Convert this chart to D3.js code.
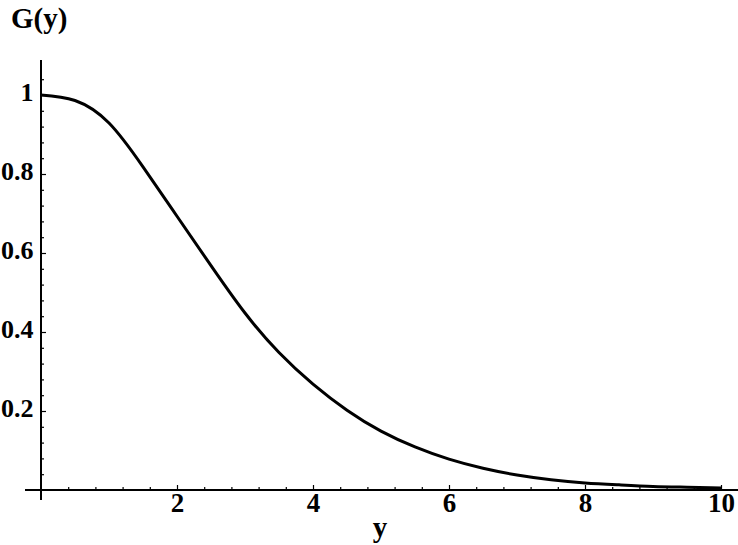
<!DOCTYPE html>
<html>
<head>
<meta charset="utf-8">
<script src="https://cdn.jsdelivr.net/npm/d3@7"></script>
<style>
  body { margin: 0; background: #fff; }
  svg { display: block; }
  text { font-family: "Liberation Serif", "Times New Roman", serif; font-weight: bold; }
</style>
</head>
<body>
<div id="chart"></div>
<script>
// curve G(y)
var yValues = [0, 0.5, 1, 1.5, 2, 2.5, 3, 3.5, 4, 4.5, 5, 5.5, 6, 6.5, 7, 7.5, 8, 8.5, 9, 9.5, 10];
var gValues = [1.0, 0.986, 0.929, 0.818, 0.693, 0.568, 0.448, 0.348, 0.268, 0.202, 0.149, 0.109, 0.078, 0.055, 0.038, 0.026, 0.018, 0.013, 0.009, 0.007, 0.005];

var xTicks = [2, 4, 6, 8, 10];
var xTickLabels = ["2", "4", "6", "8", "10"];
var yTicks = [0.2, 0.4, 0.6, 0.8, 1];
var yTickLabels = ["0.2", "0.4", "0.6", "0.8", "1"];
var xLabel = "y";
var yLabel = "G(y)";

var width = 738, height = 545;

var svg = d3.select("#chart")
	.append("svg")
	.attr("width", width)
	.attr("height", height);

// Scales
var x = d3.scaleLinear().domain([0, 10]).range([41, 721]);
var y = d3.scaleLinear().domain([0, 1]).range([490, 95]);

// minor ticks
var xMinor = d3.range(1, 26).map(function(i) { return +(i * 0.4).toFixed(2); })
	.filter(function(v) { return xTicks.indexOf(v) < 0; });
var yMinor = d3.range(1, 27).map(function(i) { return +(i * 0.04).toFixed(2); })
	.filter(function(v) { return yTicks.indexOf(v) < 0; });

// X axis
var gx = svg.append("g").attr("transform", "translate(0," + y(0) + ")");
gx.call(d3.axisBottom(x).tickValues(xMinor).tickFormat("").tickSizeInner(-3).tickSizeOuter(0));
var gx2 = svg.append("g").attr("transform", "translate(0," + y(0) + ")");
gx2.call(d3.axisBottom(x).tickValues(xTicks)
	.tickFormat(function(d, i) { return xTickLabels[i]; })
	.tickSizeInner(-5).tickSizeOuter(0).tickPadding(3));

// Y axis
var gy = svg.append("g").attr("transform", "translate(" + x(0) + ",0)");
gy.call(d3.axisLeft(y).tickValues(yMinor).tickFormat("").tickSizeInner(-3).tickSizeOuter(0));
var gy2 = svg.append("g").attr("transform", "translate(" + x(0) + ",0)");
gy2.call(d3.axisLeft(y).tickValues(yTicks)
	.tickFormat(function(d, i) { return yTickLabels[i]; })
	.tickSizeInner(-5).tickSizeOuter(0).tickPadding(7.5));
gy2.selectAll(".tick text").attr("dy", "0.2em");

svg.selectAll(".domain").remove();
svg.selectAll(".tick line").attr("stroke", "#000").attr("stroke-width", 1.2);
svg.selectAll(".tick text")
	.attr("fill", "#000")
	.style("font-size", "26px");
gx2.selectAll(".tick text").style("font-size", "27px");

// axis lines, drawn a bit past the plot range like the original
svg.append("line")
	.attr("x1", 25).attr("x2", width)
	.attr("y1", y(0)).attr("y2", y(0))
	.attr("stroke", "#000").attr("stroke-width", 2);
svg.append("line")
	.attr("x1", x(0)).attr("x2", x(0))
	.attr("y1", 500).attr("y2", 60)
	.attr("stroke", "#000").attr("stroke-width", 2);

// Curve
var data = yValues.map(function(v, i) { return [v, gValues[i]]; });
var line = d3.line()
	.x(function(d) { return x(d[0]); })
	.y(function(d) { return y(d[1]); })
	.curve(d3.curveNatural);

svg.append("path")
	.datum(data)
	.attr("d", line)
	.attr("fill", "none")
	.attr("stroke", "#000")
	.attr("stroke-width", 3);

// Labels
svg.append("text")
	.attr("x", 11).attr("y", 28)
	.style("font-size", "29px")
	.text(yLabel);

svg.append("text")
	.attr("x", 380).attr("y", 537)
	.attr("text-anchor", "middle")
	.style("font-size", "29px")
	.text(xLabel);
</script>
</body>
</html>
